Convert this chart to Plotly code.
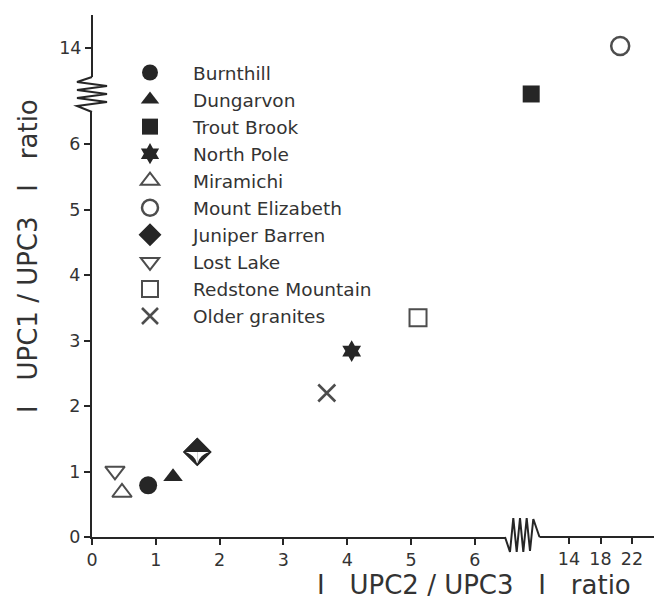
import plotly.graph_objects as go

# ---------------- data ----------------
series_names = ["Burnthill", "Dungarvon", "Trout Brook", "North Pole", "Miramichi",
                "Mount Elizabeth", "Juniper Barren", "Lost Lake", "Redstone Mountain",
                "Older granites"]
upc2_upc3 = [0.88, 1.27, 9.2, 4.07, 0.47, 20.5, 1.65, 0.36, 5.11, 3.68]
upc1_upc3 = [0.79, 0.92, 8.2, 2.84, 0.68, 14.3, 1.30, 1.01, 3.35, 2.20]
x_ticks_low = [0, 1, 2, 3, 4, 5, 6]
x_ticks_high = [14, 18, 22]
y_ticks_low = [0, 1, 2, 3, 4, 5, 6]
y_ticks_high = [14]
AXIS_BREAK = 7  # values above this are drawn on the upper (compressed) axis segment

# ---------------- layout geometry (page pixel coordinates) ----------------
PAGE_W, PAGE_H = 662, 606
BODY_MARGIN = 8                 # default HTML body margin of the written page
FIG_W, FIG_H = PAGE_W - BODY_MARGIN, PAGE_H - BODY_MARGIN
PLOT_LEFT, PLOT_TOP, PLOT_RIGHT, AX_Y = 92, 15, 662, 537   # page px
W = PLOT_RIGHT - PLOT_LEFT
H = AX_Y - PLOT_TOP
M_L = PLOT_LEFT - BODY_MARGIN
M_T = PLOT_TOP - BODY_MARGIN
M_R = PAGE_W - PLOT_RIGHT
M_B = FIG_H - (AX_Y - BODY_MARGIN)


def fx(px):
    return (px - PLOT_LEFT) / W


def fy(py):
    return (AX_Y - py) / H


X_LOW_END = X_HIGH_START = 505
X_LOW_SCALE = 63.8     # px per unit
X_HIGH_SCALE = 7.875
X_HIGH_REF_PX = 569    # pixel of value 14
Y_LOW_END = 112
Y_LOW_SCALE = 65.45
Y_HIGH_SCALE = 7.875
Y_HIGH_REF_PY = 48.3

DARK = "#262626"
GREY = "#4d4d4d"
TXT = "#333333"
FONT = "DejaVu Sans"

styles = {
    "Burnthill": dict(symbol="circle", size=18, color=DARK, line=dict(width=0)),
    "Dungarvon": dict(symbol="triangle-up", size=17, color=DARK, line=dict(width=0)),
    "Trout Brook": dict(symbol="square", size=17, color=DARK, line=dict(width=0)),
    "North Pole": dict(symbol="hexagram", size=16.5, color=DARK, line=dict(width=0)),
    "Miramichi": dict(symbol="triangle-up-open", size=17, color=GREY, line=dict(width=2, color=GREY)),
    "Mount Elizabeth": dict(symbol="circle-open", size=18, color=GREY, line=dict(width=2.5, color=GREY)),
    "Juniper Barren": dict(symbol="diamond", size=20, color=DARK, line=dict(width=1.5, color=DARK)),
    "Lost Lake": dict(symbol="triangle-down-open", size=17, color=GREY, line=dict(width=2, color=GREY)),
    "Redstone Mountain": dict(symbol="square-open", size=17, color=GREY, line=dict(width=2, color=GREY)),
    "Older granites": dict(symbol="x-thin-open", size=17, color=GREY, line=dict(width=2.6, color=GREY)),
}

fig = go.Figure()


def axes_for(xv, yv):
    return ("x2" if xv > AXIS_BREAK else "x", "y2" if yv > AXIS_BREAK else "y")


for name, xv, yv in zip(series_names, upc2_upc3, upc1_upc3):
    xa, ya = axes_for(xv, yv)
    fig.add_trace(go.Scatter(x=[xv], y=[yv], mode="markers", name=name,
                             xaxis=xa, yaxis=ya, marker=styles[name]))

# Juniper Barren: half-filled diamond -> white wedges over the lower half + open outline on top
jb = series_names.index("Juniper Barren")
xa, ya = axes_for(upc2_upc3[jb], upc1_upc3[jb])
for ang in (45, -45):
    fig.add_trace(go.Scatter(x=[upc2_upc3[jb]], y=[upc1_upc3[jb]], mode="markers",
                             xaxis=xa, yaxis=ya, showlegend=False, hoverinfo="skip",
                             marker=dict(symbol="arrow-wide", size=15, angle=ang,
                                         color="white", line=dict(width=0))))
fig.add_trace(go.Scatter(x=[upc2_upc3[jb]], y=[upc1_upc3[jb]], mode="markers", xaxis=xa, yaxis=ya,
                         showlegend=False, hoverinfo="skip",
                         marker=dict(symbol="diamond-open", size=20, color=DARK,
                                     line=dict(width=2, color=DARK))))

tickfont = dict(family=FONT, size=17.5, color=TXT)
common = dict(showgrid=False, zeroline=False, ticks="outside", ticklen=6, tickwidth=1.5,
              tickcolor=DARK, tickfont=tickfont, fixedrange=True)

x_low_range = [0, (X_LOW_END - PLOT_LEFT) / X_LOW_SCALE]
x_high_range = [14 - (X_HIGH_REF_PX - X_HIGH_START) / X_HIGH_SCALE,
                14 + (PLOT_RIGHT - X_HIGH_REF_PX) / X_HIGH_SCALE]
y_low_range = [0, (AX_Y - Y_LOW_END) / Y_LOW_SCALE]
y_high_range = [14 - (Y_LOW_END - Y_HIGH_REF_PY) / Y_HIGH_SCALE,
                14 + (Y_HIGH_REF_PY - PLOT_TOP) / Y_HIGH_SCALE]

fig.update_layout(
    width=FIG_W, height=FIG_H,
    margin=dict(l=M_L, r=M_R, t=M_T, b=M_B, autoexpand=False),
    paper_bgcolor="white", plot_bgcolor="white",
    font=dict(family=FONT, color=TXT),
    xaxis=dict(domain=[0, fx(X_LOW_END)], range=x_low_range, tickmode="array",
               tickvals=x_ticks_low, showline=True, linewidth=2, linecolor=DARK,
               anchor="y", **common),
    xaxis2=dict(domain=[fx(X_HIGH_START), 1], range=x_high_range, tickmode="array",
                tickvals=x_ticks_high, showline=False, anchor="y", **common),
    yaxis=dict(domain=[0, fy(Y_LOW_END)], range=y_low_range, tickmode="array",
               tickvals=y_ticks_low, showline=True, linewidth=2, linecolor=DARK,
               anchor="x", **common),
    yaxis2=dict(domain=[fy(Y_LOW_END), 1], range=y_high_range, tickmode="array",
                tickvals=y_ticks_high, showline=False, anchor="x", **common),
    legend=dict(x=fx(107), y=fy(54), xanchor="left", yanchor="top",
                bgcolor="rgba(0,0,0,0)", font=dict(family=FONT, size=18.5, color=TXT),
                itemwidth=76, tracegroupgap=0, itemsizing="trace"),
    showlegend=True,
)

# ---- broken-axis decorations (axis continuation lines and zigzags) ----
line_style = dict(color=DARK, width=2)
x_zig = [(505, 0), (510, 15), (513.3, -19), (516.7, 15), (520, -19), (523.3, 15),
         (526.7, -19), (530, 14), (533.3, -18), (539.5, 0)]
path = "M " + " L ".join(f"{fx(px):.5f},{fy(AX_Y + dy):.5f}" for px, dy in x_zig)
fig.add_shape(type="path", path=path, xref="paper", yref="paper", line=line_style)
fig.add_shape(type="line", x0=fx(539.5), x1=1, y0=0, y1=0, xref="paper", yref="paper",
              line=line_style)

y_zig = [(0, 112), (-15, 106), (15, 102), (-15, 98), (15, 94), (-15, 90), (15, 86),
         (-15, 82), (0, 77)]
path = "M " + " L ".join(f"{fx(PLOT_LEFT + dx):.5f},{fy(py):.5f}" for dx, py in y_zig)
fig.add_shape(type="path", path=path, xref="paper", yref="paper", line=line_style)
fig.add_shape(type="line", x0=0, x1=0, y0=fy(77), y1=1, xref="paper", yref="paper",
              line=line_style)

# ---- axis titles ----
NB = "\u00a0"
fig.add_annotation(text=f"I{NB*3}UPC2 / UPC3{NB*3}I{NB*3}ratio", x=fx(474), y=fy(585),
                   xref="paper", yref="paper", xanchor="center", yanchor="middle",
                   showarrow=False, font=dict(family=FONT, size=26, color=TXT))
fig.add_annotation(text=f"I{NB*3}UPC1 / UPC3{NB*3}I{NB*3}ratio", x=fx(28), y=fy(256),
                   xref="paper", yref="paper", xanchor="center", yanchor="middle",
                   textangle=-90, showarrow=False, font=dict(family=FONT, size=26, color=TXT))

fig.write_html("out.html")
